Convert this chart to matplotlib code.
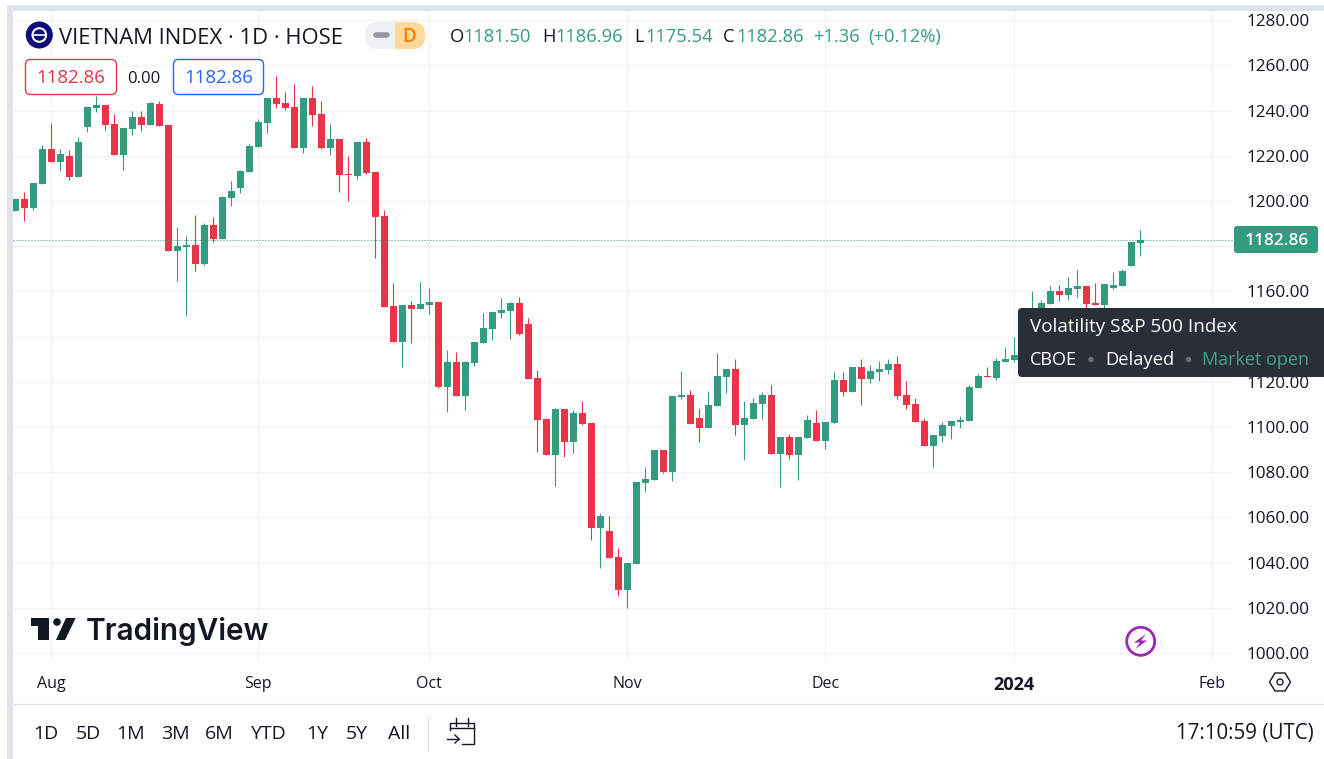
import matplotlib

matplotlib.use("Agg")
import matplotlib.pyplot as plt
from matplotlib.patches import Circle, FancyBboxPatch, Polygon, Rectangle

plt.rcParams["font.family"] = ["Open Sans", "DejaVu Sans"]

opens = [
    1195.6, 1200.9, 1196.9, 1207.5, 1223.0, 1217.3, 1219.9, 1210.6, 1232.7, 1241.2,
    1242.5, 1234.1, 1220.4, 1231.9, 1237.2, 1233.6, 1242.9, 1233.6, 1177.9, 1179.6,
    1180.5, 1172.1, 1189.4, 1183.2, 1201.3, 1205.8, 1212.8, 1223.9, 1234.5, 1245.6,
    1243.4, 1241.6, 1223.5, 1245.6, 1238.5, 1223.5, 1227.4, 1211.9, 1211.1, 1226.1,
    1212.8, 1193.4, 1153.5, 1137.6, 1154.0, 1152.2, 1154.0, 1155.3, 1117.7, 1128.8,
    1113.7, 1128.3, 1137.2, 1143.4, 1150.4, 1151.3, 1154.9, 1145.6, 1121.7, 1103.5,
    1087.6, 1108.0, 1093.4, 1106.2, 1101.8, 1055.3, 1054.0, 1042.5, 1027.9, 1039.4,
    1075.2, 1076.5, 1089.8, 1080.1, 1113.3, 1114.2, 1104.0, 1099.6, 1109.3, 1122.1,
    1125.7, 1100.9, 1103.5, 1110.2, 1114.2, 1088.1, 1095.6, 1087.6, 1095.1, 1101.8,
    1093.8, 1101.8, 1120.8, 1115.5, 1126.5, 1121.2, 1124.3, 1125.2, 1127.9, 1114.2,
    1110.2, 1102.7, 1091.6, 1096.0, 1100.4, 1102.2, 1102.7, 1117.3, 1122.6, 1121.7,
    1128.8, 1129.6, 1132.0, 1136.0, 1146.0, 1154.4, 1160.2, 1158.4, 1161.1, 1162.4,
    1154.9, 1154.0, 1161.5, 1162.4, 1171.2, 1181.5,
]
highs = [
    1200.9, 1204.0, 1208.0, 1224.8, 1234.5, 1223.0, 1222.6, 1228.3, 1241.6, 1246.5,
    1242.5, 1238.5, 1232.3, 1239.8, 1239.8, 1243.8, 1244.2, 1233.6, 1188.5, 1184.5,
    1193.8, 1190.3, 1192.9, 1202.2, 1208.8, 1213.7, 1225.2, 1236.3, 1245.6, 1255.3,
    1248.2, 1251.8, 1245.6, 1250.9, 1244.2, 1234.1, 1227.4, 1219.9, 1226.1, 1227.9,
    1212.8, 1196.0, 1163.7, 1154.0, 1155.8, 1164.2, 1161.5, 1155.3, 1134.1, 1133.2,
    1129.2, 1137.6, 1150.4, 1150.9, 1157.1, 1155.3, 1157.5, 1148.2, 1125.2, 1104.0,
    1108.4, 1108.0, 1107.5, 1111.5, 1101.8, 1061.9, 1060.6, 1046.5, 1039.8, 1075.7,
    1082.3, 1089.8, 1089.8, 1113.7, 1124.8, 1116.4, 1108.0, 1115.9, 1132.7, 1125.7,
    1130.1, 1111.5, 1112.8, 1115.5, 1118.6, 1095.6, 1096.9, 1095.6, 1105.3, 1107.5,
    1102.2, 1124.3, 1124.3, 1126.5, 1130.1, 1127.4, 1129.2, 1130.1, 1131.4, 1120.4,
    1112.8, 1104.0, 1096.5, 1102.2, 1102.7, 1104.9, 1118.6, 1123.5, 1126.5, 1130.5,
    1135.4, 1139.8, 1139.0, 1160.2, 1156.2, 1162.4, 1162.8, 1166.4, 1169.5, 1162.4,
    1163.7, 1163.3, 1168.6, 1169.9, 1181.9, 1186.96,
]
lows = [
    1195.6, 1191.2, 1196.0, 1207.5, 1217.3, 1213.3, 1209.3, 1210.6, 1230.5, 1239.4,
    1231.4, 1220.4, 1213.7, 1229.2, 1231.0, 1233.6, 1233.2, 1177.9, 1164.6, 1149.1,
    1169.0, 1171.7, 1181.9, 1183.2, 1197.8, 1203.5, 1212.8, 1223.9, 1230.1, 1241.2,
    1240.3, 1223.5, 1221.2, 1233.2, 1223.0, 1220.4, 1204.0, 1200.0, 1209.7, 1211.9,
    1174.8, 1153.1, 1137.6, 1126.5, 1137.2, 1152.2, 1150.0, 1117.3, 1106.6, 1113.7,
    1107.5, 1127.0, 1137.2, 1138.5, 1148.2, 1138.9, 1140.7, 1121.2, 1088.9, 1087.6,
    1073.9, 1086.7, 1088.5, 1100.9, 1050.0, 1037.6, 1042.0, 1025.2, 1019.9, 1039.4,
    1071.2, 1076.5, 1079.6, 1076.1, 1112.4, 1101.3, 1093.4, 1099.6, 1109.3, 1115.0,
    1096.5, 1085.4, 1103.5, 1103.5, 1088.1, 1073.5, 1085.8, 1076.5, 1095.1, 1093.8,
    1090.3, 1101.8, 1113.7, 1115.5, 1109.7, 1119.5, 1120.4, 1123.5, 1112.4, 1108.0,
    1102.2, 1091.6, 1082.3, 1093.4, 1094.7, 1099.6, 1102.7, 1117.3, 1122.1, 1120.8,
    1128.8, 1128.8, 1130.0, 1134.0, 1144.0, 1154.4, 1155.8, 1156.2, 1157.5, 1152.7,
    1154.0, 1152.7, 1161.1, 1162.4, 1171.2, 1175.54,
]
closes = [
    1200.9, 1196.9, 1208.0, 1223.0, 1217.3, 1220.8, 1210.6, 1226.1, 1241.6, 1242.5,
    1233.6, 1220.4, 1232.3, 1237.2, 1233.6, 1243.4, 1233.2, 1177.9, 1180.1, 1180.5,
    1172.1, 1189.4, 1183.2, 1201.8, 1204.4, 1213.3, 1224.3, 1235.0, 1245.6, 1242.9,
    1241.2, 1223.5, 1245.6, 1238.1, 1223.5, 1227.4, 1211.5, 1211.5, 1226.1, 1212.4,
    1192.9, 1153.1, 1137.6, 1154.0, 1152.2, 1154.4, 1155.3, 1117.7, 1128.8, 1113.7,
    1128.8, 1137.6, 1143.8, 1150.9, 1151.8, 1154.9, 1141.2, 1121.2, 1103.1, 1087.6,
    1108.0, 1093.4, 1106.2, 1101.3, 1055.3, 1060.6, 1042.0, 1027.9, 1039.8, 1075.7,
    1077.0, 1089.8, 1080.1, 1113.7, 1114.2, 1101.3, 1099.6, 1109.7, 1122.6, 1125.7,
    1100.9, 1104.0, 1110.6, 1114.2, 1088.1, 1095.6, 1087.6, 1095.6, 1103.1, 1093.8,
    1102.2, 1120.8, 1115.5, 1126.5, 1121.2, 1124.8, 1125.7, 1127.9, 1113.7, 1109.7,
    1102.2, 1091.6, 1096.5, 1100.9, 1102.7, 1103.1, 1117.7, 1122.6, 1122.1, 1129.2,
    1130.1, 1131.9, 1136.0, 1146.0, 1154.9, 1160.2, 1158.4, 1161.5, 1162.4, 1154.4,
    1154.0, 1163.3, 1162.8, 1169.0, 1181.9, 1182.86,
]
month_pos = [4, 27, 46, 68, 90, 111, 133]
month_labels = ["Aug", "Sep", "Oct", "Nov", "Dec", "2024", "Feb"]
price_ticks = list(range(1000, 1281, 20))
hidden_ticks = [1140, 1180]  # covered by the tooltip and the price tag
last_price = 1182.86
range_buttons = ["1D", "5D", "1M", "3M", "6M", "YTD", "1Y", "5Y", "All"]

GREEN = "#339B80"
RED = "#E93547"
INK = "#131722"
GRID = "#F1F2F5"
EDGE = "#E0E3EB"

W, H = 1324, 759
fig = plt.figure(figsize=(W / 100, H / 100), dpi=100, facecolor="white")

# main price chart, sized in pixels so candle pitch comes out at 9 px
ax = fig.add_axes([13 / W, 1 - 661 / H, (1233 - 13) / W, (661 - 11) / H])
ax.set_xlim(-0.259, 135.3)
ax.set_ylim(996.46, 1284.07)
for side in ax.spines.values():
    side.set_visible(False)
ax.grid(color=GRID, lw=0.9)
ax.set_axisbelow(True)
ax.yaxis.tick_right()
ax.set_yticks(price_ticks, ["" if p in hidden_ticks else f"{p:.2f}" for p in price_ticks])
ax.set_xticks(month_pos, month_labels)
ax.tick_params(axis="y", length=0, pad=10, labelsize=12.3, labelcolor=INK)
ax.tick_params(axis="x", length=0, pad=10.5, labelsize=11.5, labelcolor=INK)
ax.get_xticklabels()[5].set_fontweight("bold")
ax.get_xticklabels()[5].set_fontsize(13)

days = list(range(len(closes)))
colors = [GREEN if c >= o else RED for o, c in zip(opens, closes)]
ax.vlines(days, lows, highs, colors=colors, lw=0.8, zorder=2)
ax.bar(days, [abs(c - o) for o, c in zip(opens, closes)],
       bottom=[min(o, c) for o, c in zip(opens, closes)],
       width=0.78, color=colors, lw=0, zorder=3)
ax.axhline(last_price, color="#2A8F75", lw=0.72, ls=(0, (1, 2)), zorder=4)

# everything around the chart is placed on a pixel overlay
ov = fig.add_axes([0, 0, 1, 1], facecolor="none")
ov.set_xlim(0, W)
ov.set_ylim(H, 0)
ov.axis("off")


def label(x, y, s, size=12.5, color=INK, ha="left", **kw):
    ov.text(x, y, s, fontsize=size, color=color, ha=ha, va="baseline", **kw)


def box(x0, y0, x1, y1, r, **kw):
    ov.add_patch(FancyBboxPatch((x0 + r, y0 + r), x1 - x0 - 2 * r, y1 - y0 - 2 * r,
                                boxstyle=f"round,pad={r},rounding_size={r}", **kw))


# page frame
ov.add_patch(Rectangle((7, 5), W - 7, 6, color=EDGE, lw=0))
ov.add_patch(Rectangle((7, 5), 6, H - 5, color=EDGE, lw=0))
ov.plot([13, W], [703.5, 703.5], color=EDGE, lw=0.9)

# header
ov.add_patch(Circle((39.3, 35), 13.5, color="#0E0A7E", lw=0))
ov.add_patch(Circle((39.3, 35), 6.8, fill=False, ec="white", lw=1.5))
ov.plot([34, 45], [35, 35], color="white", lw=1.2)
label(59, 44, "VIETNAM INDEX · 1D · HOSE", size=15.8)
box(365, 22, 425, 49, 13, fc="#F0F1F3", ec="none")
box(395, 22, 425, 49, 13, fc="#FFD99B", ec="none")
ov.add_patch(Rectangle((395, 22), 14, 27, color="#FFD99B", lw=0))
ov.plot([376, 387], [35, 35], color="#9598A1", lw=4, solid_capstyle="round")
label(409, 42, "D", size=13.5, color="#F57C00", ha="center", fontweight="semibold")

for x, letter, value in [(450, "O", "1181.50"), (542, "H", "1186.96"),
                         (634, "L", "1175.54"), (723, "C", "1182.86")]:
    label(x, 42, letter, size=13.2)
    label(x + 13 if letter != "L" else x + 11, 42, value, size=13.2, color=GREEN)
label(813, 42, "+1.36", size=13.2, color=GREEN)
label(868, 42, "(+0.12%)", size=13.2, color=GREEN)

box(25.5, 59.5, 116.5, 94.5, 5, fc="white", ec=RED, lw=1)
label(71, 83, "1182.86", size=13.4, color=RED, ha="center")
label(144, 83, "0.00", size=12, ha="center")
box(173.5, 59.5, 263.5, 94.5, 5, fc="white", ec="#2962FF", lw=1)
label(218.5, 83, "1182.86", size=13.4, color="#2962FF", ha="center")

# last price tag
box(1234, 226, 1318, 253, 3, fc=GREEN, ec="none")
label(1309, 245, "1182.86", size=12.4, color="white", ha="right", fontweight="semibold")

# tooltip
box(1018, 308, 1340, 377, 4, fc="#2A2E39", ec="none")
label(1030, 332, "Volatility S&P 500 Index", size=13.6, color="white")
label(1030, 365, "CBOE", size=13, color="white")
label(1105, 365, "Delayed", size=13.2, color="white")
label(1202, 365, "Market open", size=13, color="#3AA68B")
ov.add_patch(Circle((1091, 359.5), 2.8, color="#6A6D78", lw=0))
ov.add_patch(Circle((1188.5, 359.5), 2.8, color="#6A6D78", lw=0))

# TradingView mark
ov.add_patch(Polygon([(31, 618), (49, 618), (49, 640), (38, 640), (38, 626), (31, 626)],
                     color=INK, lw=0))
ov.add_patch(Circle((57, 622), 3.8, color=INK, lw=0))
ov.add_patch(Polygon([(66, 618), (75.7, 618), (65, 640), (56, 640)], color=INK, lw=0))
label(86, 640, "TradingView", size=21.4, fontweight="semibold", family="Inter")

# bolt badge
ov.add_patch(Circle((1140.7, 641.3), 14, fill=False, ec="#9C27B0", lw=2))
ov.add_patch(Polygon([(1146, 634), (1134, 642.5), (1140, 642.5), (1135.5, 649),
                      (1147, 640.5), (1141, 640.5)], color="#9C27B0", lw=0))

# settings hexagon
ov.add_patch(Polygon([(1269.5, 682), (1275, 673), (1285, 673), (1290.5, 682),
                      (1285, 691), (1275, 691)], fill=False, ec=INK, lw=1))
ov.add_patch(Circle((1280, 682), 3, fill=False, ec=INK, lw=1))

# range buttons
for x, name in zip([46, 88, 131, 175, 219, 268, 317, 357, 399], range_buttons):
    label(x, 739, name, size=14, ha="center")
ov.plot([427.5, 427.5], [716, 750], color=EDGE, lw=0.9)

# calendar jump icon
ov.plot([450, 450, 474, 474, 462], [730, 723, 723, 744, 744], color=INK, lw=1)
ov.plot([450, 474], [728, 728], color=INK, lw=1)
ov.plot([456, 456], [718, 726], color=INK, lw=1)
ov.plot([468, 468], [718, 726], color=INK, lw=1)
ov.plot([447, 459], [739, 739], color=INK, lw=1)
ov.plot([455, 459, 455], [735, 739, 743], color=INK, lw=1)

label(1314, 739, "17:10:59 (UTC)", size=14.8, ha="right")

fig.savefig("out.png", dpi=100)
